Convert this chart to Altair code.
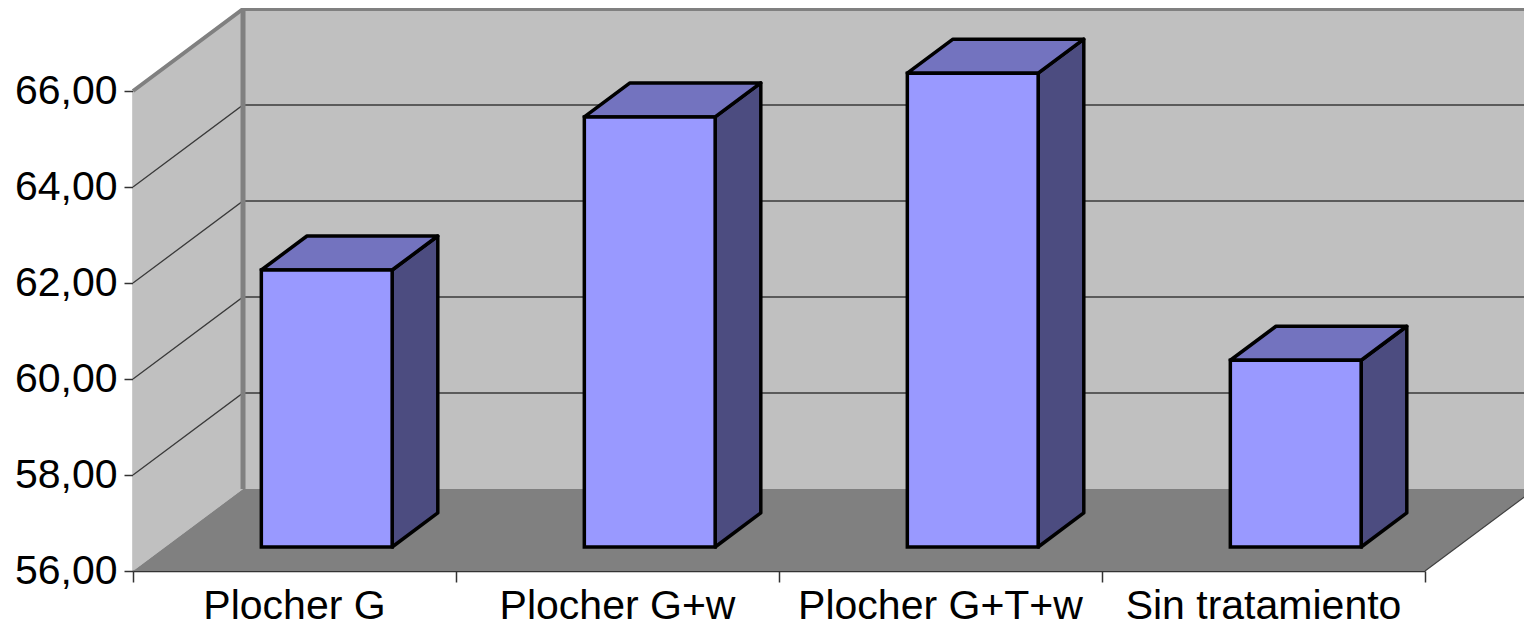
import altair as alt
import pandas as pd

# ---- data ----
categories = ["Plocher G", "Plocher G+w", "Plocher G+T+w", "Sin tratamiento"]
values = [61.77, 64.96, 65.87, 59.89]
y_ticks = [56, 58, 60, 62, 64, 66]
x_ticks = [0, 1, 2, 3, 4]

# ---- 3D geometry (in scale units) ----
N = len(categories)
Y_MIN, Y_MAX = y_ticks[0], y_ticks[-1]
DX, DY = 0.3406, 1.708          # depth shift of the back wall
BAR_W, BAR_D0, BAR_DD = 0.405, 0.293, 0.415   # bar width, front depth, bar depth

FONT = "Liberation Sans"

xscale = alt.Scale(domain=[0, N], nice=False, zero=False)
yscale = alt.Scale(domain=[Y_MIN, Y_MAX], nice=False, zero=False)

x_axis = alt.Axis(values=x_ticks, labels=False, title=None, grid=False,
                  domainColor="#333333", domainWidth=1.5,
                  tickColor="#333333", tickWidth=1.5, tickSize=11)
y_axis = alt.Axis(values=y_ticks, title=None, grid=False,
                  labelExpr="replace(format(datum.value, '.2f'), '.', ',')",
                  labelFont=FONT, labelFontSize=41, labelColor="black",
                  labelPadding=7, tickSize=9, tickColor="#333333", tickWidth=1.5,
                  domainColor="#333333", domainWidth=1.5)


def X(f="x"):
    return alt.X(f"{f}:Q", scale=xscale, axis=x_axis)


def Y(f="y"):
    return alt.Y(f"{f}:Q", scale=yscale, axis=y_axis, stack=None)


# ---- walls ----
left_wall = pd.DataFrame({"x": [0, DX], "y": [Y_MAX, Y_MAX + DY], "y2": [Y_MIN, Y_MIN + DY]})
back_wall = pd.DataFrame({"x": [DX, N + DX], "y": [Y_MAX + DY] * 2, "y2": [Y_MIN + DY] * 2})
floor = pd.DataFrame({"x": [0, DX, N, N + DX],
                      "y": [Y_MIN, Y_MIN + DY, Y_MIN + DY, Y_MIN + DY],
                      "y2": [Y_MIN, Y_MIN, Y_MIN, Y_MIN + DY]})

grid_rows = []
for v in y_ticks[1:-1]:
    grid_rows += [{"g": v, "x": 0, "y": v}, {"g": v, "x": DX, "y": v + DY},
                  {"g": v, "x": N + DX, "y": v + DY}]
grid = pd.DataFrame(grid_rows)

top_border = pd.DataFrame({"x": [0, DX, N + DX], "y": [Y_MAX, Y_MAX + DY, Y_MAX + DY]})
corner = pd.DataFrame({"x": [DX], "y": [Y_MIN + DY], "y2": [Y_MAX + DY]})
floor_edge = pd.DataFrame({"x": [N, N + DX], "y": [Y_MIN, Y_MIN + DY]})

# ---- bars ----
bdx, bdy = BAR_DD * DX, BAR_DD * DY
front_rows, top_rows, side_rows = [], [], []
for i, (c, v) in enumerate(zip(categories, values)):
    x0 = i + 0.5 - BAR_W / 2 + BAR_D0 * DX
    x1 = x0 + BAR_W
    yb = Y_MIN + BAR_D0 * DY
    yt = v + BAR_D0 * DY
    front_rows.append({"cat": c, "x": x0, "x2": x1, "y": yt, "y2": yb})
    top_rows += [
        {"cat": c, "x": x0, "y": yt, "y2": yt},
        {"cat": c, "x": x0 + bdx, "y": yt + bdy, "y2": yt},
        {"cat": c, "x": x1, "y": yt + bdy, "y2": yt},
        {"cat": c, "x": x1 + bdx, "y": yt + bdy, "y2": yt + bdy},
    ]
    side_rows += [
        {"cat": c, "x": x1, "y": yt, "y2": yb},
        {"cat": c, "x": x1 + bdx, "y": yt + bdy, "y2": yb + bdy},
    ]
front = pd.DataFrame(front_rows)
top = pd.DataFrame(top_rows)
side = pd.DataFrame(side_rows)

labels = pd.DataFrame({"cat": categories, "x": [i + 0.5 for i in range(N)], "y": [Y_MIN] * N})

# ---- layers ----
def wall(df, color):
    return alt.Chart(df).mark_area(orient="vertical", fill=color, strokeWidth=0).encode(
        x=X(), y=Y(), y2="y2:Q")

layers = [
    wall(back_wall, "#c0c0c0"),
    wall(left_wall, "#c0c0c0"),
    wall(floor, "#808080"),
    alt.Chart(grid).mark_line(color="#3a3a3a", strokeWidth=1.3).encode(x=X(), y=Y(), detail="g:N"),
    alt.Chart(top_border).mark_line(color="#808080", strokeWidth=4).encode(x=X(), y=Y()),
    alt.Chart(corner).mark_rule(color="#808080", strokeWidth=5).encode(x=X(), y=Y(), y2="y2:Q"),
    alt.Chart(floor_edge).mark_line(color="#404040", strokeWidth=1.2).encode(x=X(), y=Y()),
    alt.Chart(side).mark_area(orient="vertical", fill="#4c4c80", stroke="black", strokeWidth=3.5,
                              strokeJoin="round").encode(x=X(), y=Y(), y2="y2:Q", detail="cat:N"),
    alt.Chart(top).mark_area(orient="vertical", fill="#7373bf", stroke="black", strokeWidth=3.5,
                             strokeJoin="round").encode(x=X(), y=Y(), y2="y2:Q", detail="cat:N"),
    alt.Chart(front).mark_rect(fill="#9999ff", stroke="black", strokeWidth=3.5).encode(
        x=X(), x2="x2:Q", y=Y(), y2="y2:Q"),
    alt.Chart(labels).mark_text(font=FONT, fontSize=41, baseline="alphabetic", align="center",
                                dy=48, color="black").encode(x=X(), y=Y(), text="cat:N"),
]

chart = alt.layer(*layers).properties(
    width=1292, height=480,
    autosize=alt.AutoSizeParams(type="none"),
    padding={"left": 125, "top": 83, "right": 99, "bottom": 57},
    background="white",
).configure_view(stroke=None)

chart.save("out.html", embed_options={"renderer": "svg", "actions": False})
